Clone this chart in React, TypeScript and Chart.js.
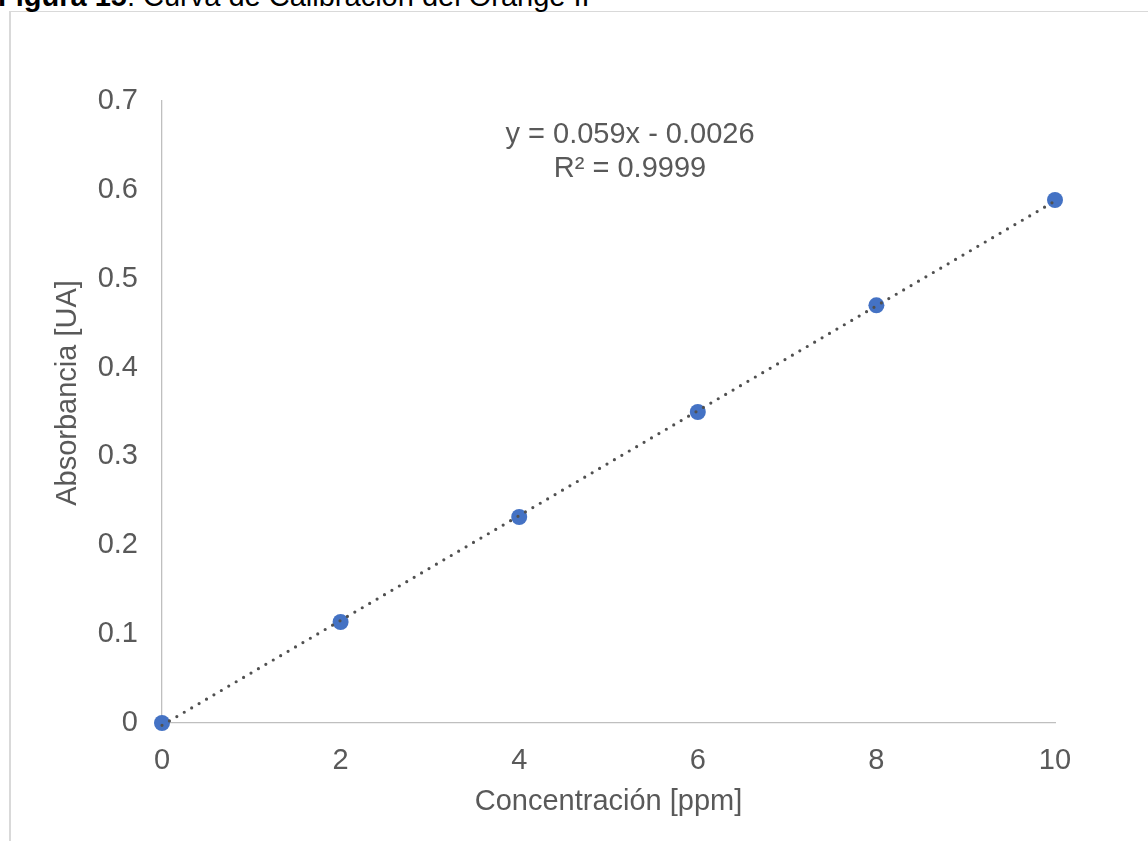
import React, { useEffect, useRef } from "react";
import { Chart, registerables } from "chart.js";

Chart.register(...registerables);

const concentrations = [0, 2, 4, 6, 8, 10];
const absorbances = [0, 0.1137, 0.2318, 0.35, 0.47, 0.5886];
const trendSlope = 0.059;
const trendIntercept = -0.0026;
const trendX = [0, 10];
const yTicks = [0, 0.1, 0.2, 0.3, 0.4, 0.5, 0.6, 0.7];
const yTickLabels = ["0", "0.1", "0.2", "0.3", "0.4", "0.5", "0.6", "0.7"];
const xTicks = [0, 2, 4, 6, 8, 10];
const xTickLabels = ["0", "2", "4", "6", "8", "10"];
const equationLines = ["y = 0.059x - 0.0026", "R² = 0.9999"];
const xTitle = "Concentración [ppm]";
const yTitle = "Absorbancia [UA]";

const FONT = "'Liberation Sans', Arial, Helvetica, sans-serif";
const GRAY_TEXT = "#595959";

const overlayPlugin = {
  id: "overlayText",
  afterDraw(chart: any) {
    const ctx = chart.ctx;
    ctx.save();
    ctx.fillStyle = GRAY_TEXT;
    ctx.font = `29px ${FONT}`;
    ctx.textAlign = "center";
    ctx.textBaseline = "alphabetic";
    // equation
    ctx.fillText(equationLines[0], 630, 143);
    ctx.fillText(equationLines[1], 630, 177);
    // y title
    ctx.translate(76, 393);
    ctx.rotate(-Math.PI / 2);
    ctx.fillText(yTitle, 0, 0);
    ctx.restore();
  },
};

export default function App() {
  const canvasRef = useRef<HTMLCanvasElement | null>(null);

  useEffect(() => {
    if (!canvasRef.current) return;
    const chart = new Chart(canvasRef.current, {
      type: "scatter",
      data: {
        datasets: [
          {
            type: "line",
            label: "Tendencia",
            data: trendX.map((x) => ({ x, y: trendSlope * x + trendIntercept })),
            borderColor: "#505050",
            borderWidth: 3.2,
            borderDash: [0, 8.6],
            borderCapStyle: "round",
            pointRadius: 0,
            fill: false,
            clip: false,
            order: 0,
          } as any,
          {
            label: "Absorbancia",
            data: concentrations.map((x, i) => ({ x, y: absorbances[i] })),
            backgroundColor: "#4472C4",
            borderColor: "#4472C4",
            borderWidth: 0,
            pointRadius: 8,
            clip: false,
            order: 1,
          } as any,
        ],
      },
      options: {
        animation: false,
        responsive: false,
        maintainAspectRatio: false,
        layout: { padding: { left: 0, top: 101, right: 93, bottom: 0 } },
        plugins: {
          legend: { display: false },
          tooltip: { enabled: false },
          title: { display: false },
        },
        events: [],
        scales: {
          x: {
            type: "linear",
            min: 0,
            max: 10,
            afterFit: (scale: any) => {
              scale.height = 118;
            },
            afterBuildTicks: (scale: any) => {
              scale.ticks = xTicks.map((v) => ({ value: v }));
            },
            grid: { display: false, drawTicks: false },
            border: { display: true, color: "#bfbfbf", width: 1.3 },
            ticks: {
              color: GRAY_TEXT,
              font: { family: FONT, size: 29 },
              padding: 21,
              maxRotation: 0,
              callback: (v: any) => {
                const i = xTicks.indexOf(Number(v));
                return i >= 0 ? xTickLabels[i] : "";
              },
            },
            title: {
              display: true,
              text: xTitle,
              color: GRAY_TEXT,
              font: { family: FONT, size: 29, lineHeight: 1 },
              padding: { top: 0, bottom: 24.5 },
            },
          },
          y: {
            type: "linear",
            min: 0,
            max: 0.7,
            afterFit: (scale: any) => {
              scale.width = 162;
            },
            afterBuildTicks: (scale: any) => {
              scale.ticks = yTicks.map((v) => ({ value: v }));
            },
            grid: { display: false, drawTicks: false },
            border: { display: true, color: "#bfbfbf", width: 1.3 },
            ticks: {
              color: GRAY_TEXT,
              font: { family: FONT, size: 29 },
              padding: 24,
              callback: (v: any) => {
                let best = 0;
                for (let i = 0; i < yTicks.length; i++) {
                  if (Math.abs(yTicks[i] - Number(v)) < Math.abs(yTicks[best] - Number(v))) best = i;
                }
                return yTickLabels[best];
              },
            },
          },
        },
      },
      plugins: [overlayPlugin],
    });
    return () => chart.destroy();
  }, []);

  return (
    <div
      style={{
        position: "absolute",
        left: 0,
        top: 0,
        width: 1148,
        height: 841,
        overflow: "hidden",
        background: "#ffffff",
        fontFamily: FONT,
      }}
    >
      <div
        style={{
          position: "absolute",
          left: 9,
          top: 11,
          width: 1160,
          height: 900,
          borderLeft: "2px solid #d9d9d9",
          borderTop: "1px solid #d9d9d9",
          boxSizing: "border-box",
        }}
      />
      <div
        style={{
          position: "absolute",
          left: -2,
          top: -18.5,
          fontSize: 29,
          lineHeight: "29px",
          color: "#000000",
          whiteSpace: "nowrap",
        }}
      >
        <b>Figura 15</b>: Curva de Calibración del Orange II
      </div>
      <canvas
        ref={canvasRef}
        width={1148}
        height={841}
        style={{ position: "absolute", left: 0, top: 0, width: 1148, height: 841 }}
      />
    </div>
  );
}
